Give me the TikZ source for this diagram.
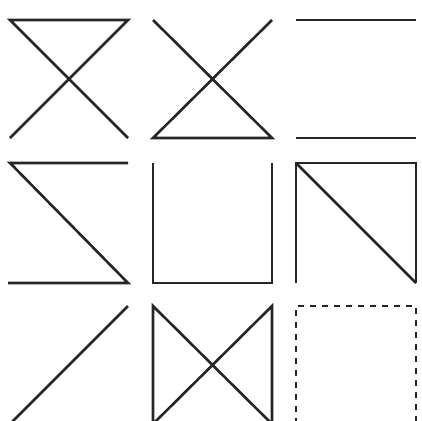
\documentclass[tikz,border=0pt]{standalone}
\begin{document}
\begin{tikzpicture}[x=1pt,y=-1pt,
  stroke/.style={draw=black!85,line width=2.6pt,line join=miter},
  dashstroke/.style={stroke,line width=2.3pt,dash pattern=on 6pt off 6pt}]
\useasboundingbox (0,0) rectangle (422,420);
% cell size 118, pitch 143
% row 1
\draw[stroke] (10,138) -- (128,20) -- (10,20) -- (128,138);
\draw[stroke] (153,20) -- (272,138) -- (153,138) -- (272,20);
\draw[stroke] (296,20) -- (416,20);
\draw[stroke] (296,138) -- (416,138);
% row 2
\draw[stroke] (128,163) -- (10,163) -- (128,283) -- (8,283);
\draw[stroke] (153,163) -- (153,283) -- (272,283) -- (272,163);
\draw[stroke] (296,283) -- (296,163) -- (416,163) -- (416,283);
\draw[stroke] (296,163) -- (416,283);
% row 3
\draw[stroke] (128,306) -- (12,422);
\draw[stroke] (153,424) -- (153,306) -- (272,424) -- (272,306) -- (153,424);
\draw[dashstroke] (296,424) -- (296,306) -- (416,306) -- (416,424);
\end{tikzpicture}
\end{document}
